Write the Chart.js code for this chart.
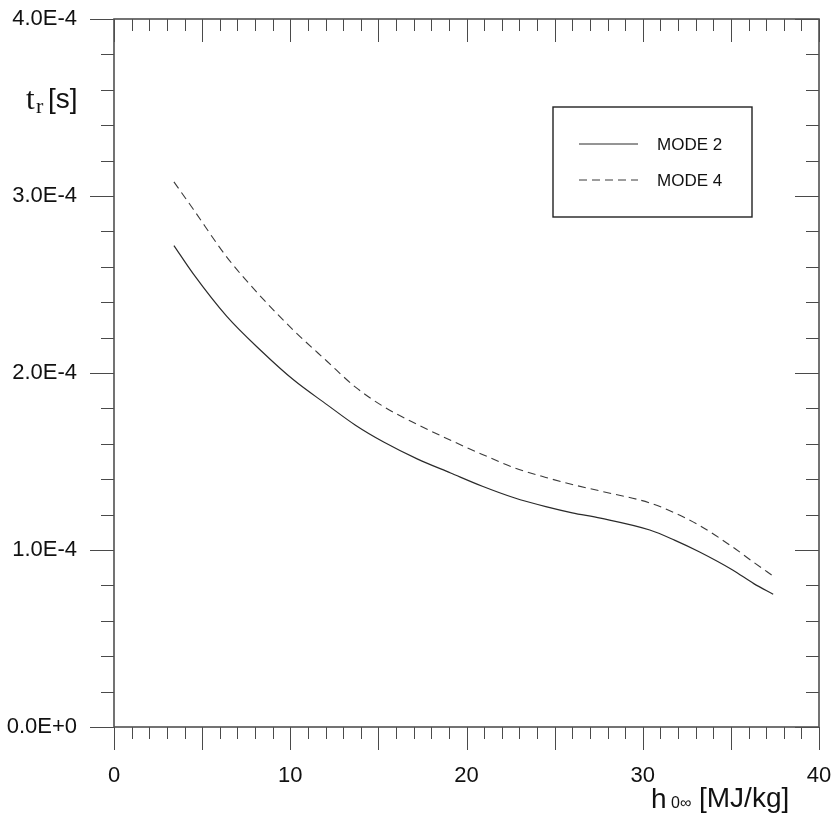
<!DOCTYPE html>
<html><head><meta charset="utf-8">
<script src="https://cdn.jsdelivr.net/npm/chart.js@4/dist/chart.umd.min.js"></script>
<style>html,body{margin:0;padding:0;background:#fff;}#wrap{width:835px;height:818px;}</style>
</head><body><div id="wrap"><canvas id="c" width="835" height="818"></canvas></div>
<script>
// ---- data ----
const enthalpy = [3.4, 4.5, 6.4, 8.3, 10.2, 12.1, 13.7, 15.3, 17.2, 19.1, 20.9, 22.7, 24.5, 26.0, 27.6, 30.4, 31.8, 33.2, 35.1, 36.3, 37.4];
const mode2 = [2.72e-4, 2.56e-4, 2.32e-4, 2.13e-4, 1.96e-4, 1.82e-4, 1.705e-4, 1.61e-4, 1.515e-4, 1.435e-4, 1.36e-4, 1.295e-4, 1.245e-4, 1.21e-4, 1.18e-4, 1.113e-4, 1.056e-4, 0.99e-4, 0.887e-4, 0.81e-4, 0.75e-4];
const mode4 = [3.08e-4, 2.925e-4, 2.655e-4, 2.435e-4, 2.24e-4, 2.065e-4, 1.92e-4, 1.81e-4, 1.71e-4, 1.62e-4, 1.54e-4, 1.465e-4, 1.41e-4, 1.37e-4, 1.333e-4, 1.266e-4, 1.21e-4, 1.14e-4, 1.017e-4, 0.93e-4, 0.853e-4];
const seriesLabels = ['MODE 2', 'MODE 4'];
const xTickValues = [0, 10, 20, 30, 40];
const xTickLabels = ['0', '10', '20', '30', '40'];
const yTickValues = [0, 1e-4, 2e-4, 3e-4, 4e-4];
const yTickLabels = ['0.0E+0', '1.0E-4', '2.0E-4', '3.0E-4', '4.0E-4'];
const xMinorStep = 1, xMajorEvery = 5;
const yMinorStep = 0.2e-4, yMajorEvery = 5;

const SANS = "'Liberation Sans', Arial, sans-serif";
const SERIF = "'Liberation Serif', 'Times New Roman', serif";

const framePlugin = {
  id: 'frame',
  afterDatasetsDraw(chart) {
    const ctx = chart.ctx, a = chart.chartArea, xs = chart.scales.x, ys = chart.scales.y;
    ctx.save();
    ctx.strokeStyle = '#4a4a4a';
    ctx.lineWidth = 1;
    // x ticks (bottom outward, top inward)
    const nx = Math.round((xs.max - xs.min) / xMinorStep);
    for (let i = 0; i <= nx; i++) {
      const px = Math.round(xs.getPixelForValue(xs.min + i * xMinorStep)) + 0.5;
      const L = (i % xMajorEvery === 0) ? 23 : 12;
      ctx.beginPath();
      ctx.moveTo(px, a.bottom); ctx.lineTo(px, a.bottom + L);
      ctx.moveTo(px, a.top); ctx.lineTo(px, a.top + L);
      ctx.stroke();
    }
    // y ticks (left outward, right inward)
    const ny = Math.round((ys.max - ys.min) / yMinorStep);
    for (let i = 0; i <= ny; i++) {
      const py = Math.round(ys.getPixelForValue(ys.min + i * yMinorStep)) + 0.5;
      const L = (i % yMajorEvery === 0) ? 24 : 13;
      ctx.beginPath();
      ctx.moveTo(a.left - L, py); ctx.lineTo(a.left, py);
      ctx.moveTo(a.right - L, py); ctx.lineTo(a.right, py);
      ctx.stroke();
    }
    // frame
    ctx.lineWidth = 1.6;
    ctx.strokeStyle = '#505050';
    ctx.strokeRect(a.left, a.top, a.right - a.left, a.bottom - a.top);

    // legend box
    const bx = a.left + 439, by = a.top + 88, bw = 199, bh = 110;
    ctx.lineWidth = 1.4;
    ctx.strokeStyle = '#222';
    ctx.strokeRect(bx, by, bw, bh);
    chart.data.datasets.forEach((ds, i) => {
      const yy = by + 37 + i * 36;
      ctx.beginPath();
      ctx.strokeStyle = ds.borderColor;
      ctx.lineWidth = 1;
      ctx.setLineDash(ds.borderDash || []);
      ctx.moveTo(bx + 26, yy); ctx.lineTo(bx + 85, yy);
      ctx.stroke();
      ctx.setLineDash([]);
      ctx.fillStyle = '#111';
      ctx.font = '17px ' + SANS;
      ctx.textBaseline = 'middle';
      ctx.textAlign = 'left';
      ctx.fillText(ds.label, bx + 104, yy + 1);
    });

    // axis titles
    ctx.fillStyle = '#111';
    ctx.textBaseline = 'alphabetic';
    ctx.textAlign = 'left';
    // y title: t_r [s]
    ctx.font = '31px ' + SERIF;
    ctx.fillText('t', 26, 109);
    ctx.font = '22px ' + SERIF;
    ctx.fillText('r', 36, 113);
    ctx.font = '28px ' + SANS;
    ctx.fillText('[s]', 48, 108);
    // x title: h 0∞ [MJ/kg]
    ctx.font = '28px ' + SANS;
    ctx.fillText('h', 651, 808);
    ctx.font = '16px ' + SANS;
    ctx.fillText('0\u221E', 671, 808);
    ctx.font = '28px ' + SANS;
    ctx.fillText('[MJ/kg]', 699, 807);
    ctx.restore();
  }
};

new Chart(document.getElementById('c'), {
  type: 'scatter',
  data: {
    datasets: [
      { label: seriesLabels[0], data: enthalpy.map((x, i) => ({ x, y: mode2[i] })), showLine: true, pointRadius: 0,
        borderColor: '#2a2a2a', borderWidth: 1.2, cubicInterpolationMode: 'monotone' },
      { label: seriesLabels[1], data: enthalpy.map((x, i) => ({ x, y: mode4[i] })), showLine: true, pointRadius: 0,
        borderColor: '#3a3a3a', borderWidth: 1.1, borderDash: [8, 5], cubicInterpolationMode: 'monotone' }
    ]
  },
  options: {
    responsive: false, animation: false, devicePixelRatio: 1,
    layout: { padding: { top: 19, right: 16, left: 0, bottom: 0 } },
    plugins: { legend: { display: false }, tooltip: { enabled: false } },
    scales: {
      x: {
        type: 'linear', position: 'bottom', min: 0, max: 40,
        grid: { display: false }, border: { display: false },
        afterBuildTicks: s => { s.ticks = xTickValues.map(v => ({ value: v })); },
        ticks: { color: '#111', font: { family: SANS, size: 22 }, padding: 28, maxRotation: 0,
          callback: (v) => { const k = xTickValues.indexOf(v); return k >= 0 ? xTickLabels[k] : ''; } },
        afterFit: s => { s.height = 91; s.paddingLeft = 0; s.paddingRight = 0; }
      },
      y: {
        type: 'linear', position: 'left', min: 0, max: 4e-4,
        grid: { display: false }, border: { display: false },
        afterBuildTicks: s => { s.ticks = yTickValues.map(v => ({ value: v })); },
        ticks: { color: '#111', font: { family: SANS, size: 22 }, padding: 29,
          callback: (v) => { const k = yTickValues.findIndex(t => Math.abs(t - v) < 1e-9); return k >= 0 ? yTickLabels[k] : ''; } },
        afterFit: s => { s.width = 114; s.paddingTop = 0; s.paddingBottom = 0; }
      }
    }
  },
  plugins: [framePlugin]
});
</script>
</body></html>
